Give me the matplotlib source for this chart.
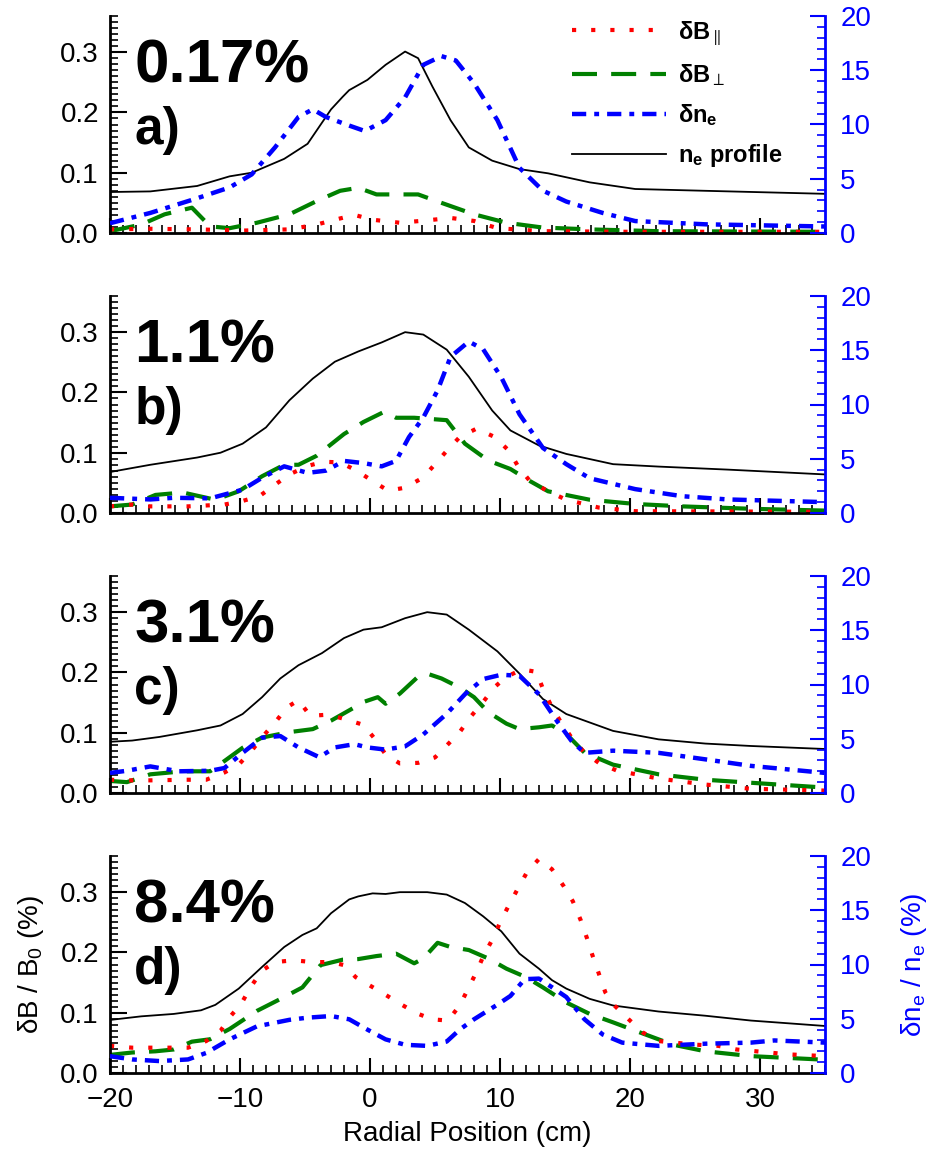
import matplotlib

matplotlib.use("Agg")
import matplotlib.pyplot as plt
from matplotlib.ticker import MultipleLocator

plt.rcParams["font.family"] = ["Liberation Sans", "DejaVu Sans"]
plt.rcParams["mathtext.fontset"] = "custom"
plt.rcParams["mathtext.rm"] = "Liberation Sans"
plt.rcParams["mathtext.bf"] = "Liberation Sans:bold"
plt.rcParams["mathtext.it"] = "Liberation Sans:italic"
plt.rcParams["mathtext.sf"] = "Liberation Sans"
plt.rcParams["mathtext.default"] = "regular"

# ---- data (x in cm) ------------------------------------------------------
# dB_par / B0 (%), dB_perp / B0 (%), n_e profile (arb., left scale), dn_e/n_e (%, right scale)

# a) 0.17%
xa_par = [-20, -17, -13.3, -9.8, -6.2, -4.1, -2.7, -1.2, 0.2, 2.3, 4.4, 6.2, 8.0, 9.8, 13.3, 20, 35]
a_par = [0.006, 0.007, 0.006, 0.004, 0.006, 0.014, 0.022, 0.030, 0.022, 0.017, 0.021, 0.025,
         0.020, 0.008, 0.003, 0.002, 0.002]
xa_perp = [-20, -17.6, -15.8, -13.7, -12.3, -10.8, -8.7, -6.2, -4.1, -2.3, -0.9, 0.5, 2.3, 3.7,
           5.5, 8.0, 10.5, 13.3, 16.9, 22.2, 35]
a_perp = [0.003, 0.014, 0.031, 0.042, 0.011, 0.008, 0.017, 0.031, 0.053, 0.070, 0.075, 0.064,
          0.064, 0.064, 0.050, 0.031, 0.017, 0.009, 0.006, 0.003, 0.002]
xa_dn = [-20, -16.9, -13.3, -10.8, -9.1, -7.3, -5.5, -4.4, -3.4, -1.6, -0.4, 1.2, 2.7, 4.1, 5.5,
         6.6, 8.0, 9.8, 11.5, 13.3, 15.1, 17.9, 20.4, 25.8, 35]
a_dn = [0.9, 1.85, 3.2, 4.2, 5.4, 7.9, 10.7, 11.4, 10.7, 9.9, 9.4, 10.4, 12.5, 15.5, 16.3, 15.9,
        13.8, 10.4, 6.0, 3.9, 2.9, 1.85, 1.1, 0.8, 0.6]
xa_ne = [-20, -16.9, -13.3, -10.8, -9.1, -6.6, -4.8, -3.0, -2.1, -1.6, -0.2, 1.2, 2.7, 3.7, 4.8,
         6.2, 7.6, 9.4, 11.5, 13.7, 16.9, 20.4, 25.8, 35]
a_ne = [0.068, 0.069, 0.078, 0.094, 0.100, 0.123, 0.148, 0.205, 0.226, 0.237, 0.254, 0.279, 0.301,
        0.290, 0.243, 0.187, 0.142, 0.120, 0.106, 0.099, 0.084, 0.073, 0.070, 0.065]

# b) 1.1%
xb_par = [-20, -18.3, -16.9, -14.0, -11.2, -9.8, -8.5, -7.3, -6.2, -4.8, -3.6, -2.3, -1.0, 0.2,
          1.4, 2.7, 4.1, 5.0, 5.9, 6.9, 8.2, 9.6, 10.7, 11.4, 12.3, 13.7, 15.1, 17.6, 20.4, 35]
b_par = [0.011, 0.014, 0.011, 0.011, 0.014, 0.020, 0.028, 0.047, 0.064, 0.078, 0.085, 0.084,
         0.070, 0.053, 0.037, 0.042, 0.059, 0.081, 0.103, 0.126, 0.140, 0.126, 0.103, 0.077,
         0.053, 0.036, 0.022, 0.009, 0.003, 0.002]
xb_perp = [-20, -18.3, -16.5, -14.4, -11.9, -10.1, -8.3, -6.6, -5.5, -4.1, -2.0, -0.5, 1.1, 2.0,
           3.4, 5.9, 7.3, 9.1, 10.8, 12.3, 13.7, 16.9, 20.4, 24.0, 29.3, 35]
b_perp = [0.011, 0.014, 0.030, 0.034, 0.022, 0.036, 0.061, 0.080, 0.080, 0.095, 0.131, 0.151,
          0.168, 0.158, 0.158, 0.154, 0.115, 0.087, 0.073, 0.053, 0.036, 0.022, 0.015, 0.011,
          0.007, 0.004]
xb_dn = [-20, -16.9, -15.1, -12.3, -9.8, -8.3, -6.6, -4.8, -3.4, -2.0, -0.5, 0.9, 2.0, 3.0, 4.1,
         5.2, 6.2, 7.6, 8.7, 10.1, 11.5, 13.3, 15.1, 16.9, 20.4, 24.0, 27.5, 35]
b_dn = [1.4, 1.25, 1.4, 1.35, 2.15, 3.25, 4.3, 3.7, 3.9, 4.8, 4.6, 4.3, 4.8, 7.0, 8.8, 11.3, 14.4,
        15.8, 15.1, 12.5, 9.1, 6.0, 4.5, 3.2, 2.2, 1.55, 1.25, 1.0]
xb_ne = [-20, -16.9, -13.3, -11.5, -9.8, -8.0, -6.2, -4.4, -2.7, -0.9, 0.9, 2.7, 4.1, 5.9, 7.6,
         9.4, 10.8, 13.0, 15.1, 18.7, 22.2, 27.5, 35]
b_ne = [0.068, 0.080, 0.092, 0.100, 0.115, 0.142, 0.187, 0.223, 0.251, 0.268, 0.283, 0.300, 0.296,
        0.271, 0.226, 0.170, 0.137, 0.112, 0.098, 0.081, 0.077, 0.072, 0.064]

# c) 3.1%
xc_par = [-20, -18.7, -16.9, -14.0, -12.6, -11.2, -10.1, -9.0, -8.2, -7.3, -6.4, -5.5, -4.6, -3.2,
          -2.0, -0.5, 0.4, 1.2, 2.3, 3.7, 5.0, 6.0, 6.9, 7.8, 8.7, 9.6, 10.5, 11.7, 12.8, 13.3,
          14.0, 14.7, 15.5, 16.5, 17.6, 19.0, 22.2, 25.8, 29.3, 35]
c_par = [0.022, 0.021, 0.021, 0.022, 0.022, 0.034, 0.047, 0.073, 0.095, 0.117, 0.142, 0.154,
         0.128, 0.130, 0.123, 0.113, 0.089, 0.064, 0.049, 0.050, 0.059, 0.081, 0.101, 0.128,
         0.151, 0.176, 0.193, 0.205, 0.201, 0.173, 0.142, 0.117, 0.092, 0.067, 0.050, 0.037,
         0.024, 0.014, 0.007, 0.004]
xc_perp = [-20, -18.7, -16.9, -14.4, -12.3, -11.2, -9.8, -8.3, -6.2, -4.4, -3.0, -1.2, -0.5, 0.6,
           1.2, 2.3, 3.7, 4.4, 5.5, 6.9, 8.0, 9.1, 10.5, 11.5, 13.0, 14.0, 15.1, 16.5, 18.7,
           22.2, 25.8, 29.3, 35]
c_perp = [0.020, 0.018, 0.031, 0.036, 0.036, 0.053, 0.075, 0.092, 0.101, 0.106, 0.120, 0.142,
          0.151, 0.159, 0.148, 0.165, 0.193, 0.198, 0.190, 0.175, 0.159, 0.134, 0.115, 0.106,
          0.109, 0.112, 0.098, 0.067, 0.047, 0.031, 0.022, 0.017, 0.009]
xc_dn = [-20, -18.7, -16.9, -14.7, -12.3, -11.2, -9.8, -8.3, -6.9, -5.5, -3.9, -2.7, -1.2, -0.2,
         1.2, 2.7, 4.1, 5.9, 7.3, 8.7, 10.1, 11.5, 13.0, 14.4, 15.5, 16.5, 18.7, 22.2, 25.8,
         29.3, 35]
c_dn = [1.85, 2.05, 2.45, 2.0, 2.05, 2.3, 3.7, 5.1, 5.25, 4.2, 3.3, 4.2, 4.5, 4.2, 4.0, 4.3, 5.4,
        7.3, 9.1, 10.5, 10.9, 10.8, 9.1, 6.6, 4.8, 3.7, 3.9, 3.7, 3.1, 2.5, 1.85]
xc_ne = [-20, -18.3, -16.2, -13.3, -11.5, -9.8, -8.3, -6.9, -5.5, -3.7, -2.0, -0.5, 0.9, 2.7, 4.4,
         5.9, 7.6, 9.8, 11.5, 13.3, 15.1, 18.7, 22.2, 25.8, 29.3, 35]
c_ne = [0.085, 0.087, 0.093, 0.104, 0.112, 0.131, 0.159, 0.190, 0.212, 0.232, 0.257, 0.271, 0.275,
        0.290, 0.300, 0.296, 0.271, 0.235, 0.198, 0.156, 0.131, 0.103, 0.089, 0.082, 0.078, 0.073]

# d) 8.4%
xd_par = [-20, -18.3, -15.8, -14.0, -12.6, -11.5, -10.7, -9.9, -9.2, -8.3, -7.3, -5.9, -4.4, -3.0,
          -2.0, -1.1, 0.0, 1.1, 2.3, 3.6, 4.8, 6.0, 6.9, 7.6, 8.2, 8.7, 9.4, 10.1, 10.7, 11.4,
          12.1, 13.0, 14.0, 14.9, 15.6, 16.2, 16.7, 17.1, 17.6, 18.1, 18.8, 19.9, 21.0, 22.2,
          23.6, 25.0, 26.8, 28.2, 30.7, 32.1, 35]
d_par = [0.045, 0.042, 0.042, 0.042, 0.053, 0.070, 0.095, 0.115, 0.142, 0.170, 0.184, 0.187,
         0.184, 0.184, 0.179, 0.159, 0.145, 0.131, 0.115, 0.099, 0.089, 0.087, 0.112, 0.142,
         0.168, 0.193, 0.221, 0.254, 0.279, 0.307, 0.334, 0.355, 0.338, 0.310, 0.285, 0.254,
         0.223, 0.196, 0.165, 0.134, 0.112, 0.089, 0.067, 0.053, 0.050, 0.047, 0.045, 0.039,
         0.034, 0.031, 0.028]
xd_perp = [-20, -18.3, -16.5, -15.1, -13.7, -12.3, -10.8, -8.7, -6.6, -5.2, -3.8, -2.1, -0.9, 0.5,
           2.0, 3.4, 4.1, 5.2, 6.2, 7.6, 9.1, 10.5, 12.0, 13.3, 15.1, 16.9, 18.7, 20.8, 23.3,
           25.8, 29.3, 35]
d_perp = [0.030, 0.034, 0.036, 0.039, 0.052, 0.056, 0.073, 0.103, 0.126, 0.142, 0.179, 0.188,
          0.189, 0.194, 0.198, 0.182, 0.190, 0.216, 0.209, 0.204, 0.190, 0.173, 0.159, 0.142,
          0.117, 0.098, 0.084, 0.067, 0.047, 0.036, 0.028, 0.022]
xd_dn = [-20, -18.3, -16.2, -14.0, -12.6, -10.8, -8.7, -6.2, -4.8, -3.0, -1.6, -0.2, 1.2, 2.7, 4.4,
         5.9, 6.9, 8.0, 9.8, 10.8, 11.9, 13.0, 14.0, 15.1, 16.5, 17.9, 19.4, 22.2, 25.8, 29.3,
         31.1, 35]
d_dn = [1.55, 1.25, 1.1, 1.25, 1.85, 3.1, 4.3, 4.9, 5.1, 5.25, 4.95, 4.0, 3.1, 2.6, 2.5, 2.9, 4.0,
        4.95, 6.3, 7.1, 8.65, 8.7, 7.9, 7.0, 4.95, 3.55, 2.8, 2.5, 2.7, 2.8, 3.0, 2.8]
xd_ne = [-20, -17.6, -15.1, -13.0, -11.9, -10.1, -8.3, -6.6, -5.2, -4.1, -3.0, -1.6, -0.9, 0.2,
         1.2, 2.3, 4.4, 5.9, 7.3, 8.7, 10.1, 11.5, 13.0, 14.0, 15.1, 16.9, 18.7, 22.2, 25.8,
         29.3, 35]
d_ne = [0.088, 0.094, 0.098, 0.104, 0.113, 0.140, 0.176, 0.209, 0.229, 0.240, 0.265, 0.288, 0.293,
        0.298, 0.297, 0.300, 0.300, 0.296, 0.282, 0.260, 0.235, 0.198, 0.173, 0.154, 0.140,
        0.123, 0.112, 0.102, 0.095, 0.087, 0.078]

fractions = ["0.17%", "1.1%", "3.1%", "8.4%"]
tags = ["a)", "b)", "c)", "d)"]
legend_labels = [r"$\delta\mathbf{B}_{\parallel}$", r"$\delta\mathbf{B}_{\perp}$",
                 r"$\delta\mathbf{n}_\mathbf{e}$", r"$\mathbf{n_e}$ profile"]

RED, GREEN, BLUE = "#ff0000", "#008000", "#0000ff"


def style_panel(ax, ax2, last):
    ax.set_xlim(-20, 35)
    ax.set_ylim(0, 0.36)
    ax2.set_ylim(0, 20)
    for a in (ax, ax2):
        a.spines["top"].set_visible(False)
    ax.spines["right"].set_visible(False)
    ax2.spines["left"].set_visible(False)
    ax2.spines["bottom"].set_visible(False)
    ax.spines["left"].set_linewidth(2)
    ax.spines["bottom"].set_linewidth(2)
    ax2.spines["right"].set_linewidth(2)
    ax2.spines["right"].set_color(BLUE)

    ax.xaxis.set_major_locator(MultipleLocator(10))
    ax.xaxis.set_minor_locator(MultipleLocator(1))
    ax.yaxis.set_major_locator(MultipleLocator(0.1))
    ax.yaxis.set_minor_locator(MultipleLocator(0.01))
    ax2.yaxis.set_major_locator(MultipleLocator(5))
    ax2.yaxis.set_minor_locator(MultipleLocator(1))

    ax.tick_params(which="both", direction="in", top=False, right=False, labelsize=20)
    ax.tick_params(axis="y", which="major", length=12, width=1.5, pad=8)
    ax.tick_params(axis="y", which="minor", length=6, width=1.2)
    ax.tick_params(axis="x", which="major", length=11, width=1.5, pad=10,
                   labelbottom=last)
    ax.tick_params(axis="x", which="minor", length=6, width=1.2)
    ax2.tick_params(which="both", direction="in", colors=BLUE, labelsize=20)
    ax2.tick_params(which="major", length=11, width=1.5, pad=11)
    ax2.tick_params(which="minor", length=6, width=1.2)


fig = plt.figure(figsize=(9.35, 11.5), dpi=100)
panels = [
    (xa_par, a_par, xa_perp, a_perp, xa_dn, a_dn, xa_ne, a_ne),
    (xb_par, b_par, xb_perp, b_perp, xb_dn, b_dn, xb_ne, b_ne),
    (xc_par, c_par, xc_perp, c_perp, xc_dn, c_dn, xc_ne, c_ne),
    (xd_par, d_par, xd_perp, d_perp, xd_dn, d_dn, xd_ne, d_ne),
]

for i, (xp, par, xq, perp, xn, dn, xe, ne) in enumerate(panels):
    last = i == len(panels) - 1
    ax = fig.add_axes([110 / 935, (917 - 280 * i) / 1150, 715 / 935, 217 / 1150])
    ax2 = ax.twinx()
    style_panel(ax, ax2, last)

    l_ne, = ax.plot(xe, ne, color="black", lw=1.3)
    l_perp, = ax.plot(xq, perp, color=GREEN, lw=3.0, ls=(0, (6, 3.4)))
    l_par, = ax.plot(xp, par, color=RED, lw=3.0, ls=(0, (1, 3.6)))
    l_dn, = ax2.plot(xn, dn, color=BLUE, lw=3.2, ls=(0, (3.2, 1.8, 1.1, 1.8)))

    ax2.text(0.034, 0.693, fractions[i], transform=ax.transAxes, fontsize=44.5,
             fontweight="bold", ha="left", va="baseline")
    ax2.text(0.034, 0.41, tags[i], transform=ax.transAxes, fontsize=37,
             fontweight="bold", ha="left", va="baseline")

    if i == 0:
        ax2.legend([l_par, l_perp, l_dn, l_ne], legend_labels, loc="upper left",
                   bbox_to_anchor=(0.646, 0.985), frameon=False, borderpad=0,
                   borderaxespad=0, handlelength=4.0, handletextpad=0.5,
                   labelspacing=0.6, prop={"size": 17, "weight": "bold"})
    if last:
        ax.set_xlabel("Radial Position (cm)", fontsize=20, labelpad=6)
        ax.set_ylabel(r"$\delta$B / B$_0$ (%)", fontsize=20, labelpad=10)
        ax2.set_ylabel(r"$\delta$n$_e$ / n$_e$ (%)", fontsize=20, color=BLUE, labelpad=20)

fig.savefig("out.png", dpi=100)
